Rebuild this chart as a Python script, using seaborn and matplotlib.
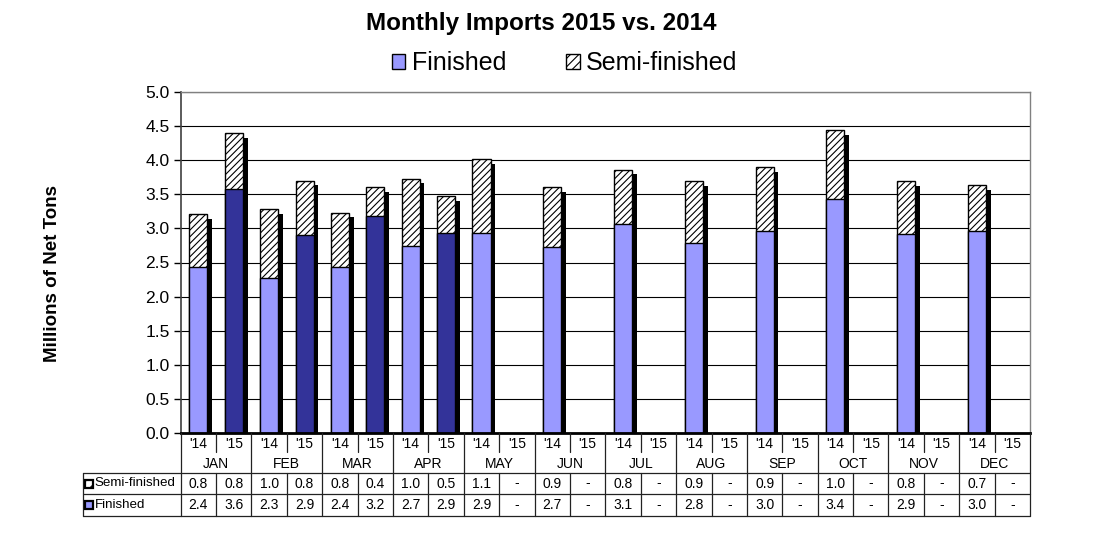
import numpy as np
import pandas as pd
import matplotlib
matplotlib.use("Agg")
import matplotlib.pyplot as plt
import matplotlib.patheffects as pe
from matplotlib.patches import Patch, Rectangle
import seaborn as sns

# ---------------- data ----------------
months = ["JAN", "FEB", "MAR", "APR", "MAY", "JUN", "JUL", "AUG", "SEP", "OCT", "NOV", "DEC"]
years = ["'14", "'15"]
finished_14 = [2.43, 2.27, 2.43, 2.74, 2.93, 2.72, 3.07, 2.79, 2.96, 3.43, 2.92, 2.96]
semi_14 = [0.78, 1.01, 0.80, 0.99, 1.09, 0.88, 0.79, 0.90, 0.94, 1.01, 0.77, 0.67]
finished_15 = [3.58, 2.90, 3.18, 2.93]
semi_15 = [0.82, 0.80, 0.43, 0.54]

rows = []
for i, m in enumerate(months):
    rows.append(dict(month=m, year="'14", finished=finished_14[i], semi=semi_14[i]))
    if i < len(finished_15):
        rows.append(dict(month=m, year="'15", finished=finished_15[i], semi=semi_15[i]))
df = pd.DataFrame(rows)
df["total"] = df["finished"] + df["semi"]

# ---------------- style ----------------
sns.set_theme(style="white")
plt.rcParams["font.family"] = ["Liberation Sans", "DejaVu Sans"]
plt.rcParams["hatch.linewidth"] = 0.8
for k in ("text.color", "axes.labelcolor", "xtick.color", "ytick.color"):
    plt.rcParams[k] = "black"

FIN14 = "#9999FF"
FIN15 = "#333399"
HATCH = "/////"

fig = plt.figure(figsize=(11.06, 5.42), dpi=100)
L, R, B, T = 180.7, 1030.0, 433.0, 92.0
W, H = 1106.0, 542.0
ax = fig.add_axes([L / W, 1 - B / H, (R - L) / W, (B - T) / H])

# total (hatched) bars
sns.barplot(data=df, x="month", y="total", hue="year", order=months, hue_order=years,
            palette={"'14": "white", "'15": "white"}, width=1.0, gap=0.49,
            legend=False, ax=ax, errorbar=None, saturation=1)
total_patches = list(ax.patches)
for p in total_patches:
    p.set_hatch(HATCH)
    p.set_edgecolor("black")
    p.set_linewidth(1.0)
    p.set_path_effects([pe.SimplePatchShadow(offset=(3.4, -3.4), shadow_rgbFace="black", alpha=1.0),
                        pe.Normal()])
    p.set_zorder(2)

# finished bars
sns.barplot(data=df, x="month", y="finished", hue="year", order=months, hue_order=years,
            palette={"'14": FIN14, "'15": FIN15}, width=1.0, gap=0.49,
            legend=False, ax=ax, errorbar=None, saturation=1)
for p in ax.patches:
    if p in total_patches:
        continue
    p.set_edgecolor("black")
    p.set_linewidth(1.0)
    p.set_hatch(None)
    p.set_zorder(3)

ax.set_xlim(-0.5, 11.5)
ax.set_ylim(0, 5.0)
ax.set_yticks(np.arange(0, 5.01, 0.5))
ax.set_yticklabels([f"{v:.1f}" for v in np.arange(0, 5.01, 0.5)], fontsize=12.5)
ax.set_xticks([])
ax.set_xlabel("")
ax.set_ylabel("")
ax.tick_params(axis="y", direction="out", length=5, width=1, color="black", left=True, pad=3)
ax.yaxis.grid(True, color="black", linewidth=0.8)
ax.set_axisbelow(True)
for s in ["top", "right"]:
    ax.spines[s].set_color("#808080")
    ax.spines[s].set_linewidth(1.0)
ax.spines["left"].set_color("#404040")
ax.spines["left"].set_linewidth(1.2)
ax.spines["bottom"].set_color("black")
ax.spines["bottom"].set_linewidth(2.0)
ax.spines["bottom"].set_zorder(5)

# ---------------- data table ----------------
def ay(p):
    return (B - p) / (B - T)

def axx(p):
    return (p - L) / (R - L)

tr = ax.get_xaxis_transform()
lkw = dict(color="#222222", linewidth=0.9, clip_on=False, zorder=6)
fs = 10
y_year, y_sub, y_month = ay(443.5), ay(452), ay(463.5)
y_r1, y_r2, y_r3 = ay(472.7), ay(494.3), ay(515.7)
y_semi, y_fin = (y_r1 + y_r2) / 2, (y_r2 + y_r3) / 2

for m in range(13):
    ax.plot([m - 0.5, m - 0.5], [0, y_r3], transform=tr, **lkw)
for m in range(12):
    ax.plot([m, m], [0, y_sub], transform=tr, **lkw)
    ax.plot([m, m], [y_r1, y_r3], transform=tr, **lkw)
x0 = axx(82.7)
for yy in (y_r1, y_r2, y_r3):
    ax.plot([x0, 1], [yy, yy], transform=ax.transAxes, **lkw)
ax.plot([x0, x0], [y_r1, y_r3], transform=ax.transAxes, **lkw)

for i, m in enumerate(months):
    ax.text(i, y_month, m, transform=tr, ha="center", va="center", fontsize=fs)
    for j, yr in enumerate(years):
        xc = i - 0.25 + 0.5 * j
        ax.text(xc, y_year, yr, transform=tr, ha="center", va="center", fontsize=fs)
        if j == 0:
            sv, fv = f"{semi_14[i]:.1f}", f"{finished_14[i]:.1f}"
        elif i < len(finished_15):
            sv, fv = f"{semi_15[i]:.1f}", f"{finished_15[i]:.1f}"
        else:
            sv, fv = "-", "-"
        ax.text(xc, y_semi, sv, transform=tr, ha="center", va="center", fontsize=fs)
        ax.text(xc, y_fin, fv, transform=tr, ha="center", va="center", fontsize=fs)

mw, mh = 8 / (R - L), 8 / (B - T)
for yy, fc, hatch, lab in ((y_semi, "white", "///", "Semi-finished"),
                           (y_fin, FIN14, None, "Finished")):
    ax.add_patch(Rectangle((axx(85), yy - mh / 2), mw, mh, transform=ax.transAxes,
                           facecolor=fc, edgecolor="black", linewidth=1.6, hatch=hatch,
                           clip_on=False, zorder=7))
    ax.text(axx(94.5), yy, lab, transform=ax.transAxes, ha="left", va="center", fontsize=9.6)

# ---------------- titles & legend ----------------
fig.text(541.5 / W, 1 - 23.5 / H, "Monthly Imports 2015 vs. 2014", ha="center", va="center",
         fontsize=17.5, fontweight="bold")
fig.text(53 / W, 1 - 274 / H, "Millions of Net Tons", ha="center", va="center",
         rotation=90, fontsize=13.5, fontweight="bold")

handles = [Patch(facecolor=FIN14, edgecolor="black", linewidth=1.0, label="Finished"),
           Patch(facecolor="white", edgecolor="black", linewidth=1.0, hatch="////", label="Semi-finished")]
fig.legend(handles=handles, loc="center", bbox_to_anchor=(564.5 / W, 1 - 63.5 / H), ncol=2,
           frameon=False, fontsize=18, handlelength=0.55, handleheight=0.55,
           handletextpad=0.25, columnspacing=2.4, borderpad=0)

fig.savefig("out.png", dpi=100)
